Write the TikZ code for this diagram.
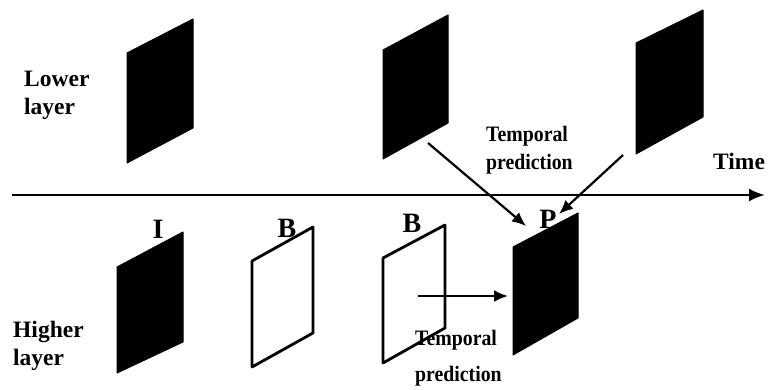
\documentclass[tikz,border=0pt]{standalone}
\usepackage{fontspec}
\setmainfont{Liberation Serif}
\usetikzlibrary{arrows.meta}
\newcommand{\narrowtxt}[1]{\scalebox{0.9}[1]{#1}}
\begin{document}
\begin{tikzpicture}[x=1pt,y=-1pt,
  txt/.style={font=\fontsize{23.5}{24}\selectfont\bfseries, inner sep=0pt, anchor=base west},
  tptxt/.style={font=\fontsize{22}{24}\selectfont\bfseries, inner sep=0pt, anchor=base west},
  lbl/.style={font=\fontsize{28}{30}\selectfont\bfseries, inner sep=0pt, anchor=base},
  solidframe/.style={fill=black, draw=black, line width=1pt, line join=round},
  openframe/.style={fill=white, draw=black, line width=2.8pt, line join=round},
  arr/.style={line width=2.2pt, -{Latex[length=14pt,width=12pt]}},
  axis/.style={line width=2.6pt, -{Latex[length=16pt,width=13pt]}}]
\useasboundingbox (0,0) rectangle (768,390);
% lower layer frames
\path[solidframe] (127,53) -- (193,19) -- (193,128) -- (127,163) -- cycle;
\path[solidframe] (383,50) -- (448,15) -- (448,123) -- (383,159) -- cycle;
\path[solidframe] (636,43) -- (703,10) -- (703,117) -- (636,154) -- cycle;
% higher layer frames
\path[solidframe] (117,267) -- (183,232) -- (183,342) -- (117,373) -- cycle;
\path[openframe] (252,261) -- (313,227) -- (313,333) -- (252,367) -- cycle;
\path[openframe] (383,258) -- (445,225) -- (445,328) -- (383,363) -- cycle;
\path[solidframe] (513,247) -- (578,213) -- (578,318) -- (513,355) -- cycle;
% time axis
\coordinate (tstart) at (12,195);
\coordinate (tend) at (765,195);
\draw[axis] (tstart) -- (tend);
% texts
\node[txt] (lower1) at (24,87) {Lower};
\node[txt] (lower2) at (24,115) {layer};
\node[txt] (higher1) at (13,337) {Higher};
\node[txt] (higher2) at (13,365) {layer};
\node[tptxt] (tp1) at (486,142) {\narrowtxt{Temporal}};
\node[tptxt] (tp2) at (486,170) {\narrowtxt{prediction}};
\node[txt] (time) at (713,170) {Time};
\node[lbl] (lI) at (158,238) {I};
\node[lbl] (lB1) at (287,237) {B};
\node[lbl] (lB2) at (412,233) {B};
\node[lbl] (lP) at (548,228) {P};
% arrows
\coordinate (a1s) at (428,143);
\coordinate (a1e) at (526,226);
\coordinate (a2s) at (623,155);
\coordinate (a2e) at (559,214);
\coordinate (a3s) at (418,296);
\coordinate (a3e) at (508,296);
\draw[arr] (a1s) -- (a1e);
\draw[arr] (a2s) -- (a2e);
\draw[arr] (a3s) -- (a3e);
\node[tptxt] (tp3) at (415,345) {\narrowtxt{Temporal}};
\node[tptxt] (tp4) at (415,381) {\narrowtxt{prediction}};
\end{tikzpicture}
\end{document}
